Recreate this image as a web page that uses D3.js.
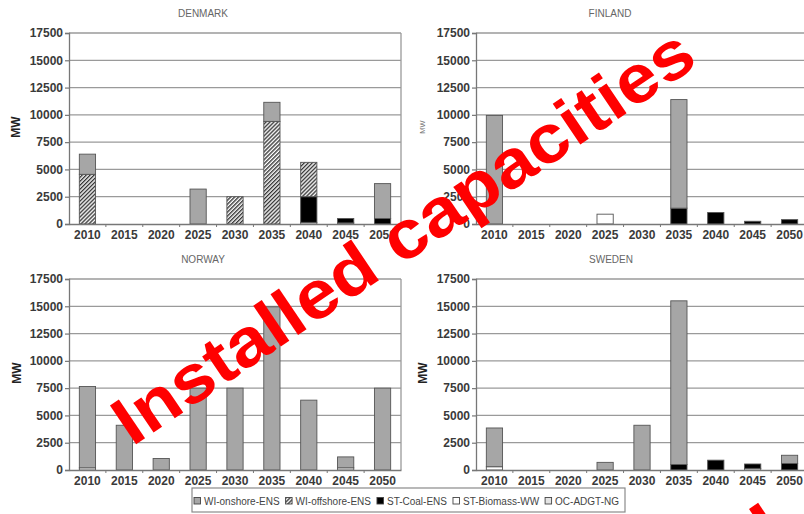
<!DOCTYPE html>
<html>
<head>
<meta charset="utf-8">
<script src="https://cdn.jsdelivr.net/npm/d3@7"></script>
<style>
  body { margin: 0; background: #fff; }
  svg { display: block; font-family: "Liberation Sans", Arial, sans-serif; }
</style>
</head>
<body>
<svg id="chart" width="804" height="514"></svg>
<script>
// ---- data ---------------------------------------------------------------
const years = ["2010", "2015", "2020", "2025", "2030", "2035", "2040", "2045", "2050"];
const yTicks = [0, 2500, 5000, 7500, 10000, 12500, 15000, 17500];
const seriesNames = ["WI-onshore-ENS", "WI-offshore-ENS", "ST-Coal-ENS", "ST-Biomass-WW", "OC-ADGT-NG"];

// installed capacity per technology (MW), one value per year
const denmarkOnshore  = [1850, 0, 0, 3200, 0, 1750, 0, 0, 3200];
const denmarkOffshore = [4550, 0, 0, 0, 2500, 9400, 3150, 0, 0];
const denmarkCoal     = [0, 0, 0, 0, 0, 0, 2350, 400, 500];
const denmarkBiomass  = [0, 0, 0, 0, 0, 0, 150, 100, 0];
const denmarkGas      = [0, 0, 0, 0, 0, 0, 0, 0, 0];

const finlandOnshore  = [9950, 0, 0, 0, 0, 9950, 0, 0, 0];
const finlandOffshore = [0, 0, 0, 0, 0, 0, 0, 0, 0];
const finlandCoal     = [0, 0, 0, 0, 0, 1450, 1050, 250, 400];
const finlandBiomass  = [0, 0, 0, 900, 0, 0, 0, 0, 0];
const finlandGas      = [0, 0, 0, 0, 0, 0, 0, 0, 0];

const norwayOnshore   = [7450, 4100, 1050, 7500, 7500, 14950, 6400, 1000, 7500];
const norwayOffshore  = [0, 0, 0, 0, 0, 0, 0, 0, 0];
const norwayCoal      = [0, 0, 0, 0, 0, 0, 0, 0, 0];
const norwayBiomass   = [200, 0, 0, 0, 0, 0, 0, 200, 0];
const norwayGas       = [0, 0, 0, 0, 0, 0, 0, 0, 0];

const swedenOnshore   = [3550, 0, 0, 700, 4100, 15000, 0, 0, 750];
const swedenOffshore  = [0, 0, 0, 0, 0, 0, 0, 0, 0];
const swedenCoal      = [0, 0, 0, 0, 0, 500, 900, 400, 600];
const swedenBiomass   = [300, 0, 0, 0, 0, 0, 0, 150, 0];
const swedenGas       = [0, 0, 0, 0, 0, 0, 0, 0, 0];

// ---- layout ---------------------------------------------------------------
const svg = d3.select("#chart");
const W = 332, H = 191;
const panels = [
  { title: "DENMARK", x0: 69,  y0: 33,  titleX: 203, mw: { x: 16,  size: 12, color: "#222", weight: "bold" },
    series: [denmarkOnshore, denmarkOffshore, denmarkCoal, denmarkBiomass, denmarkGas] },
  { title: "FINLAND", x0: 476, y0: 33,  titleX: 610, mw: { x: 422, size: 7.5, color: "#777", weight: "normal" },
    series: [finlandOnshore, finlandOffshore, finlandCoal, finlandBiomass, finlandGas] },
  { title: "NORWAY",  x0: 69,  y0: 279, titleX: 203, mw: { x: 17,  size: 12, color: "#222", weight: "bold" },
    series: [norwayOnshore, norwayOffshore, norwayCoal, norwayBiomass, norwayGas] },
  { title: "SWEDEN",  x0: 476, y0: 279, titleX: 611, mw: { x: 423, size: 12, color: "#222", weight: "bold" },
    series: [swedenOnshore, swedenOffshore, swedenCoal, swedenBiomass, swedenGas] }
];

// fills per technology
const fills = {
  "WI-onshore-ENS": "#a6a6a6",
  "WI-offshore-ENS": "url(#hatch)",
  "ST-Coal-ENS": "#000000",
  "ST-Biomass-WW": "#ffffff",
  "OC-ADGT-NG": "#e4e4e4"
};
// stacking from the bottom up
const stackOrder = ["OC-ADGT-NG", "ST-Biomass-WW", "ST-Coal-ENS", "WI-offshore-ENS", "WI-onshore-ENS"];

const defs = svg.append("defs");
const hatch = defs.append("pattern")
  .attr("id", "hatch").attr("patternUnits", "userSpaceOnUse")
  .attr("width", 2.8).attr("height", 2.8)
  .attr("patternTransform", "rotate(45)");
hatch.append("rect").attr("width", 2.8).attr("height", 2.8).attr("fill", "#fff");
hatch.append("line").attr("x1", 0.7).attr("y1", 0).attr("x2", 0.7).attr("y2", 2.8)
  .attr("stroke", "#2a2a2a").attr("stroke-width", 1.3);

const y = d3.scaleLinear().domain([0, 17500]).range([H, 0]);

panels.forEach(p => {
  const g = svg.append("g").attr("transform", `translate(${p.x0},${p.y0})`);
  const x = d3.scaleBand().domain(years).range([0, W]);

  // rows for the stack
  const rows = years.map((yr, i) => {
    const r = { year: yr };
    seriesNames.forEach((s, k) => r[s] = p.series[k][i]);
    return r;
  });
  const stacked = d3.stack().keys(stackOrder)(rows);

  // gridlines
  g.append("g").selectAll("line").data(yTicks.filter(t => t > 0)).join("line")
    .attr("x1", 0).attr("x2", W)
    .attr("y1", d => y(d)).attr("y2", d => y(d))
    .attr("stroke", "#9a9a9a").attr("stroke-width", 1.3);
  // right border
  g.append("line").attr("x1", W).attr("x2", W).attr("y1", 0).attr("y2", H)
    .attr("stroke", "#9a9a9a").attr("stroke-width", 1.3);

  // bars
  const bw = x.bandwidth() * 0.44;
  g.append("g").selectAll("g").data(stacked).join("g")
    .attr("fill", d => fills[d.key])
    .selectAll("rect").data(d => d.filter(v => v[1] - v[0] > 0)).join("rect")
    .attr("x", d => x(d.data.year) + (x.bandwidth() - bw) / 2)
    .attr("width", bw)
    .attr("y", d => y(d[1]))
    .attr("height", d => y(d[0]) - y(d[1]))
    .attr("stroke", "#555").attr("stroke-width", 0.9);

  // y axis
  const ya = g.append("g").call(d3.axisLeft(y).tickValues(yTicks).tickSize(4).tickPadding(2).tickFormat(d3.format("d")));
  ya.select(".domain").attr("stroke", "#777").attr("stroke-width", 1.3);
  ya.selectAll(".tick line").attr("stroke", "#777").attr("stroke-width", 1.2);
  ya.selectAll(".tick text").attr("font-size", 12).attr("font-weight", "bold")
    .attr("fill", "#3a3a3a").attr("font-family", "Liberation Sans, Arial, sans-serif");

  // x axis
  const xa = g.append("g").attr("transform", `translate(0,${H})`)
    .call(d3.axisBottom(x).tickSize(0).tickPadding(6));
  xa.select(".domain").attr("stroke", "#777").attr("stroke-width", 1.3);
  xa.selectAll(".tick text").attr("font-size", 12).attr("font-weight", "bold")
    .attr("fill", "#3a3a3a").attr("font-family", "Liberation Sans, Arial, sans-serif");
  // category separators below the axis
  g.append("g").selectAll("line").data(years.slice(1)).join("line")
    .attr("x1", d => x(d)).attr("x2", d => x(d))
    .attr("y1", H).attr("y2", H + 3)
    .attr("stroke", "#777").attr("stroke-width", 1);

  // title
  svg.append("text").attr("x", p.titleX).attr("y", p.y0 - 16.5)
    .attr("text-anchor", "middle").attr("font-size", 10).attr("fill", "#666")
    .text(p.title);

  // unit label
  svg.append("text")
    .attr("transform", `translate(${p.mw.x + p.mw.size * 0.36},${p.y0 + 94}) rotate(-90)`)
    .attr("text-anchor", "middle").attr("font-size", p.mw.size)
    .attr("font-weight", p.mw.weight).attr("fill", p.mw.color)
    .text("MW");
});

// ---- legend ---------------------------------------------------------------
const legend = svg.append("g").attr("transform", "translate(192,488)");
legend.append("rect").attr("width", 433).attr("height", 24)
  .attr("fill", "#fff").attr("stroke", "#8a8a8a").attr("stroke-width", 1.2);
let lx = 2;
seriesNames.forEach(s => {
  legend.append("rect").attr("x", lx).attr("y", 9.5).attr("width", 6.5).attr("height", 6.5)
    .attr("fill", fills[s]).attr("stroke", "#444").attr("stroke-width", 0.9);
  const t = legend.append("text").attr("x", lx + 10).attr("y", 16.5)
    .attr("font-size", 10).attr("fill", "#444").text(s);
  lx += 10 + t.node().getComputedTextLength() + 6;
});

// ---- red overlay caption -------------------------------------------------
svg.append("text")
  .attr("transform", "translate(132,447) rotate(-34)")
  .attr("font-size", 68).attr("font-weight", "bold").attr("fill", "#ff0000")
  .attr("textLength", 685).attr("lengthAdjust", "spacingAndGlyphs")
  .text("Installed capacities");
svg.append("rect")
  .attr("transform", "translate(749,509) rotate(-34)")
  .attr("width", 11).attr("height", 30).attr("fill", "#ff0000");
</script>
</body>
</html>
